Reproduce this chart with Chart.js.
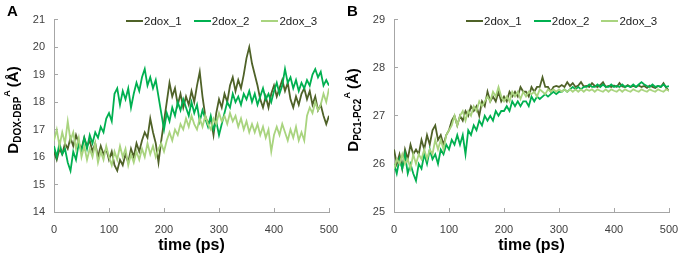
<!DOCTYPE html>
<html>
<head>
<meta charset="utf-8">
<script src="https://cdn.jsdelivr.net/npm/chart.js@4.4.1/dist/chart.umd.min.js"></script>
<style>
  body { margin: 0; background: #fff; font-family: "Liberation Sans", Arial, sans-serif; }
  .panel { position: absolute; top: 0; width: 340px; height: 257px; }
  .panel canvas { position: absolute; left: 0; top: 0; }
  .letter { position: absolute; left: 7px; top: 2px; font: bold 15px "Liberation Sans", Arial, sans-serif; color: #000; }
  .ytitle {
    position: absolute; left: 13px; top: 110px;
    transform: translate(-50%, -50%) rotate(-90deg);
    white-space: nowrap; font: bold 15px "Liberation Sans", Arial, sans-serif; color: #000; line-height: 1;
  }
  .ytitle sub { font-size: 10px; vertical-align: -3px; }
  .ytitle sup { font-size: 9px; vertical-align: 8px; margin-right: 3px; }
  .legend { position: absolute; top: 15px; left: 126px; display: flex; font-size: 11.5px; color: #222; }
  .legend .item { display: flex; align-items: center; margin-right: 12px; }
  .legend .swatch { width: 17px; height: 2.5px; margin-right: 1px; }
</style>
</head>
<body>
<div class="panel" style="left:0">
  <canvas id="chartA" width="340" height="257"></canvas>
  <div class="letter">A</div>
  <div class="ytitle">D<sub>DOX-DBP</sub><sup>A</sup>(Å)</div>
  <div class="legend" id="legendA"></div>
</div>
<div class="panel" style="left:340px">
  <canvas id="chartB" width="340" height="257"></canvas>
  <div class="letter">B</div>
  <div class="ytitle">D<sub>PC1-PC2</sub><sup>A</sup>(Å)</div>
  <div class="legend" id="legendB"></div>
</div>
<script>
const seriesLabels = ["2dox_1", "2dox_2", "2dox_3"]
const seriesColors = ["#4f6228", "#00b050", "#a9d47f"]

// time axis, one sample every 5 ps
const timePs = Array.from({ length: 101 }, (_, i) => i * 5)

// panel A: D DOX-DBP (Å)
const doxA1 = [
  16.2, 15.9, 16.3, 16.1, 16.5, 16.3, 16.7, 16.4, 16.8, 16.5,
  16.3, 16.7, 16.4, 16.6, 16.2, 16.5, 16.0, 16.4, 16.1, 16.3,
  15.9, 16.2, 15.7, 15.5, 15.9, 15.7, 16.1, 15.8, 16.3, 16.0,
  16.5, 16.2, 16.6, 16.9, 16.7, 17.4, 16.9, 16.5, 15.8, 16.6,
  17.3, 18.0, 18.7, 18.2, 18.5, 17.9, 18.3, 17.8, 18.2, 17.9,
  18.4, 18.0, 18.6, 19.1, 18.2, 17.5, 17.2, 17.4, 16.8, 17.6,
  18.1, 17.8, 18.3, 18.0, 18.6, 18.9, 18.4, 18.8, 18.5, 19.0,
  19.6, 20.0, 19.4, 19.0, 18.6, 18.1, 17.8, 18.2, 17.8, 18.3,
  18.6, 18.2, 18.5, 18.8, 18.4, 18.7, 18.1, 17.8, 18.2, 17.9,
  18.3, 18.5, 18.1, 18.4, 17.9, 18.2, 17.7, 17.9, 17.5, 17.2,
  17.5
]
const doxA2 = [
  16.4, 16.0, 16.5, 16.1, 16.3, 15.8, 15.5, 16.2, 15.9, 16.5,
  16.2, 16.7, 16.3, 16.8, 16.5, 16.9, 16.7, 17.1, 16.9, 17.4,
  17.6, 17.3, 18.3, 18.5, 17.9, 18.4, 18.1, 18.5, 17.8, 18.3,
  18.7, 18.4, 18.9, 19.2, 18.6, 18.9, 18.5, 18.8, 18.2, 17.6,
  17.0, 17.6, 17.3, 17.8, 17.5, 18.0, 17.7, 18.1, 17.8, 17.5,
  18.0, 17.6, 17.9, 17.3, 17.7, 17.4, 17.1, 17.5, 17.0, 17.3,
  16.8, 17.2, 17.6, 18.0, 17.8, 18.3, 18.0, 18.2, 17.9, 18.3,
  18.1, 18.4, 18.0, 18.3, 17.9, 18.2, 18.5, 18.1, 18.3, 18.0,
  18.4, 18.7, 18.3, 18.6, 19.2, 18.7, 18.9, 18.5, 18.8, 18.4,
  18.7, 18.5, 18.8, 18.6, 19.0, 19.2, 18.9, 19.1, 18.6, 18.8,
  18.6
]
const doxA3 = [
  16.6, 17.0, 16.4, 16.9, 16.5, 17.3, 16.6, 16.9, 16.3, 16.7,
  16.0, 16.4, 15.9, 16.3, 16.0, 16.5, 15.8, 16.2, 15.9, 16.4,
  16.0, 15.7, 16.2, 15.9, 16.4, 16.0, 16.3, 15.7, 16.1, 15.8,
  16.2, 15.9, 16.3, 16.0, 16.5, 16.1, 16.4, 16.0, 16.3, 16.5,
  16.2, 16.6, 16.9, 16.6, 17.0, 16.8, 17.2, 17.0, 17.4, 17.1,
  17.5, 17.2, 17.0, 17.4, 17.1, 17.5, 17.2, 17.0, 17.4, 17.2,
  17.6, 17.3, 17.5, 17.2, 17.6, 17.3, 17.5, 17.1, 17.4, 17.0,
  17.3, 16.9, 17.2, 16.9, 17.2, 16.8, 17.1, 16.7, 17.0, 16.2,
  16.8, 17.1, 16.8, 17.2, 16.9, 16.6, 17.0, 16.7, 17.1, 16.6,
  16.9, 16.6, 17.5, 17.8, 17.6, 18.0, 17.7, 17.9, 18.3, 18.0,
  18.5
]

// panel B: D PC1-PC2 (Å)
const doxB1 = [
  26.30, 26.00, 26.20, 25.90, 26.30, 26.10, 26.40, 26.20, 26.30, 26.20,
  26.50, 26.30, 26.60, 26.40, 26.70, 26.80, 26.50, 26.60, 26.40, 26.60,
  26.70, 26.90, 27.00, 26.80, 27.00, 26.90, 27.10, 27.00, 27.20, 27.10,
  27.20, 27.00, 27.30, 27.20, 27.50, 27.30, 27.40, 27.30, 27.50, 27.30,
  27.40, 27.30, 27.50, 27.40, 27.50, 27.40, 27.60, 27.50, 27.50, 27.40,
  27.60, 27.50, 27.60, 27.60, 27.80, 27.60, 27.60, 27.50, 27.60, 27.62,
  27.60, 27.64, 27.60, 27.70, 27.62, 27.68, 27.60, 27.63, 27.70, 27.61,
  27.62, 27.60, 27.68, 27.62, 27.60, 27.64, 27.70, 27.60, 27.62, 27.60,
  27.63, 27.60, 27.68, 27.61, 27.60, 27.64, 27.60, 27.62, 27.60, 27.63,
  27.60, 27.62, 27.58, 27.63, 27.60, 27.58, 27.62, 27.60, 27.68, 27.58,
  27.52
]
const doxB2 = [
  26.00, 25.80, 26.10, 25.90, 26.20, 25.80, 26.00, 25.80, 25.65, 26.00,
  25.90, 26.20, 26.00, 26.30, 26.10, 26.20, 26.00, 26.30, 26.20, 26.40,
  26.30, 26.50, 26.40, 26.60, 26.40, 26.60, 26.20, 26.70, 26.60, 26.80,
  26.70, 26.90, 26.80, 27.00, 26.90, 27.00, 26.90, 27.10, 27.00, 27.10,
  27.10, 27.20, 27.10, 27.30, 27.20, 27.30, 27.20, 27.30, 27.30, 27.20,
  27.40, 27.30, 27.40, 27.35, 27.40, 27.45, 27.40, 27.45, 27.50, 27.45,
  27.50, 27.50, 27.55, 27.50, 27.55, 27.60, 27.55, 27.60, 27.55, 27.60,
  27.60, 27.65, 27.60, 27.60, 27.65, 27.60, 27.65, 27.60, 27.60, 27.65,
  27.60, 27.62, 27.60, 27.65, 27.60, 27.62, 27.60, 27.65, 27.60, 27.65,
  27.70, 27.65, 27.62, 27.60, 27.65, 27.60, 27.62, 27.60, 27.65, 27.60,
  27.62
]
const doxB3 = [
  25.90, 26.10, 26.00, 26.20, 26.00, 26.10, 25.90, 26.20, 26.00, 26.20,
  26.10, 26.30, 26.10, 26.30, 26.20, 26.50, 26.30, 26.50, 26.30, 26.60,
  26.70, 26.80, 27.00, 26.80, 27.00, 27.10, 26.90, 27.10, 27.00, 27.20,
  27.10, 27.30, 27.20, 27.30, 27.40, 27.30, 27.50, 27.40, 27.60, 27.40,
  27.30, 27.40, 27.30, 27.50, 27.40, 27.50, 27.35, 27.50, 27.40, 27.50,
  27.45, 27.50, 27.40, 27.55, 27.50, 27.45, 27.55, 27.50, 27.55, 27.50,
  27.55, 27.50, 27.55, 27.50, 27.55, 27.50, 27.55, 27.50, 27.55, 27.50,
  27.55, 27.52, 27.55, 27.50, 27.55, 27.52, 27.50, 27.55, 27.50, 27.55,
  27.52, 27.50, 27.55, 27.50, 27.55, 27.52, 27.50, 27.55, 27.52, 27.50,
  27.55, 27.52, 27.50, 27.55, 27.52, 27.50, 27.55, 27.52, 27.50, 27.55,
  27.52
]

const axisColor = "#a6a6a6"
const tickColor = "#404040"

function makeChart(canvasId, legendId, series, yMin, yMax) {
  const datasets = series.map((values, i) => ({
    label: seriesLabels[i],
    data: values.map((v, j) => ({ x: timePs[j], y: v })),
    borderColor: seriesColors[i],
    backgroundColor: seriesColors[i],
    borderWidth: 1.8,
    pointRadius: 0,
    tension: 0,
    // later series on top, like the original
    order: series.length - 1 - i,
  }))

  const chart = new Chart(document.getElementById(canvasId), {
    type: "line",
    data: { datasets },
    options: {
      responsive: false,
      animation: false,
      devicePixelRatio: 1,
      layout: { padding: { left: 30, right: 11, top: 12, bottom: 0 } },
      plugins: {
        legend: { display: false },
        tooltip: { enabled: false },
      },
      scales: {
        x: {
          type: "linear",
          min: 0,
          max: 500,
          ticks: { stepSize: 100, color: tickColor, font: { size: 11 }, padding: 15, maxRotation: 0 },
          grid: { drawOnChartArea: false, tickLength: -4, color: axisColor },
          border: { color: axisColor },
          title: {
            display: true,
            text: "time (ps)",
            color: "#000",
            font: { size: 16, weight: "bold" },
            padding: { top: 0, bottom: 2 },
          },
          afterFit: (scale) => {
            scale.height = 45
            scale.paddingLeft = 0
            scale.paddingRight = 0
          },
        },
        y: {
          min: yMin,
          max: yMax,
          ticks: { stepSize: 1, color: tickColor, font: { size: 11 }, padding: 13 },
          grid: { drawOnChartArea: false, tickLength: -4, color: axisColor },
          border: { color: axisColor },
          afterFit: (scale) => { scale.width = 24 },
        },
      },
    },
  })

  // legend in the plot corner, built from the datasets
  const box = document.getElementById(legendId)
  chart.data.datasets.forEach((ds) => {
    const item = document.createElement("div")
    item.className = "item"
    const sw = document.createElement("span")
    sw.className = "swatch"
    sw.style.background = ds.borderColor
    const txt = document.createElement("span")
    txt.textContent = ds.label
    item.appendChild(sw)
    item.appendChild(txt)
    box.appendChild(item)
  })
  return chart
}

makeChart("chartA", "legendA", [doxA1, doxA2, doxA3], 14, 21)
makeChart("chartB", "legendB", [doxB1, doxB2, doxB3], 25, 29)
</script>
</body>
</html>
